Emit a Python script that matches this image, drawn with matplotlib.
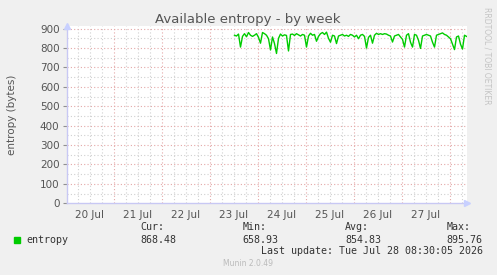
import matplotlib
matplotlib.use('Agg')
import matplotlib.pyplot as plt
import numpy as np

# data: hourly samples of available entropy (bytes), hours counted from 20 Jul 00:00
start_hour = 84.5
entropy = [866, 862, 872, 805, 860, 874, 858, 880, 866, 860,
           866, 874, 855, 825, 880, 874, 866, 848, 790, 857,
           823, 772, 850, 872, 862, 868, 865, 785, 870, 872,
           865, 874, 868, 862, 870, 866, 805, 862, 876, 866,
           870, 835, 860, 874, 880, 870, 882, 850, 830, 866,
           862, 823, 862, 866, 870, 862, 866, 860, 870, 866,
           857, 866, 848, 866, 870, 860, 800, 855, 866, 825,
           866, 876, 870, 874, 870, 874, 872, 866, 862, 831,
           862, 866, 870, 857, 845, 805, 866, 874, 830, 805,
           870, 866, 840, 798, 862, 866, 870, 866, 862, 830,
           805, 866, 870, 874, 878, 870, 866, 857, 848, 820,
           792, 857, 862, 820, 795, 866, 860]
day_labels = ['20 Jul', '21 Jul', '22 Jul', '23 Jul', '24 Jul', '25 Jul', '26 Jul', '27 Jul']
stat_names = ['Cur:', 'Min:', 'Avg:', 'Max:']
stat_values = ['868.48', '658.93', '854.83', '895.76']

hours = start_hour + np.arange(len(entropy))

fig = plt.figure(figsize=(4.97, 2.75), dpi=100, facecolor='#f0f0f0')
ax = fig.add_axes([66.5 / 497, 71.7 / 275, 400 / 497, 176.8 / 275])
ax.set_facecolor('white')
ax.set_xlim(0.5, 200.5)
ax.set_ylim(0, 911)

# grid like rrdtool: gray minor, red major
for h in range(6, 201, 6):
    col = '#e4a8a8' if h % 24 == 0 else '#d0d0d0'
    ax.axvline(h, color=col, lw=0.8, ls=(0, (1, 2)), zorder=1)
for v in range(50, 901, 50):
    col = '#e4a8a8' if v % 100 == 0 else '#d0d0d0'
    ax.axhline(v, color=col, lw=0.8, ls=(0, (1, 2)), zorder=1)

ax.plot(hours, entropy, color='#00cc00', lw=1.0, zorder=3)

for s in ax.spines.values():
    s.set_visible(False)
ax.axhline(0, color='#c8c8f4', lw=1, zorder=4, clip_on=False)
ax.axvline(0.5, color='#c8c8f4', lw=1, zorder=4, clip_on=False)
ax.plot([200.5], [0], marker='>', color='#c8d0ff', ms=5, clip_on=False, zorder=5)
ax.plot([0.5], [911], marker='^', color='#c8d0ff', ms=5, clip_on=False, zorder=5)

ax.set_yticks(range(0, 901, 100))
ax.set_xticks([12 + 24 * i for i in range(len(day_labels))])
ax.set_xticklabels(day_labels)
ax.tick_params(axis='y', length=3, color='#909090', labelsize=7.5, labelcolor='#555555', pad=2)
ax.tick_params(axis='x', length=0, labelsize=7.5, labelcolor='#555555', pad=5)

fig.text(248 / 497, 1 - 19 / 275, 'Available entropy - by week', ha='center', va='center',
         fontsize=9.5, color='#555555')
fig.text(12 / 497, 1 - 115 / 275, 'entropy (bytes)', rotation=90, ha='center', va='center',
         fontsize=7.5, color='#555555')
fig.text(487 / 497, 1 - 56 / 275, 'RRDTOOL / TOBI OETIKER', rotation=270, ha='center', va='center',
         fontsize=5.5, color='#c4c4c4')

mono = 'DejaVu Sans Mono'
fig.patches.append(plt.Rectangle((14 / 497, 1 - 242.7 / 275), 6 / 497, 5.4 / 275,
                                 transform=fig.transFigure, color='#00cc00', figure=fig))
fig.text(26 / 497, 1 - 240 / 275, 'entropy', family=mono, fontsize=7.2, color='#333333', va='center')
stat_x = [140, 242.7, 345, 446.7]
for x, name, val in zip(stat_x, stat_names, stat_values):
    fig.text(x / 497, 1 - 227.3 / 275, name, family=mono, fontsize=7.2, color='#333333', va='center')
    fig.text(x / 497, 1 - 239.7 / 275, val, family=mono, fontsize=7.2, color='#333333', va='center')
fig.text(482.7 / 497, 1 - 251.3 / 275, 'Last update: Tue Jul 28 08:30:05 2026', family=mono,
         fontsize=7.2, color='#333333', va='center', ha='right')
fig.text(248 / 497, 1 - 263.3 / 275, 'Munin 2.0.49', ha='center', va='center', fontsize=5.5, color='#bbbbbb')

plt.savefig('out.png', dpi=100, facecolor=fig.get_facecolor())
plt.close()
